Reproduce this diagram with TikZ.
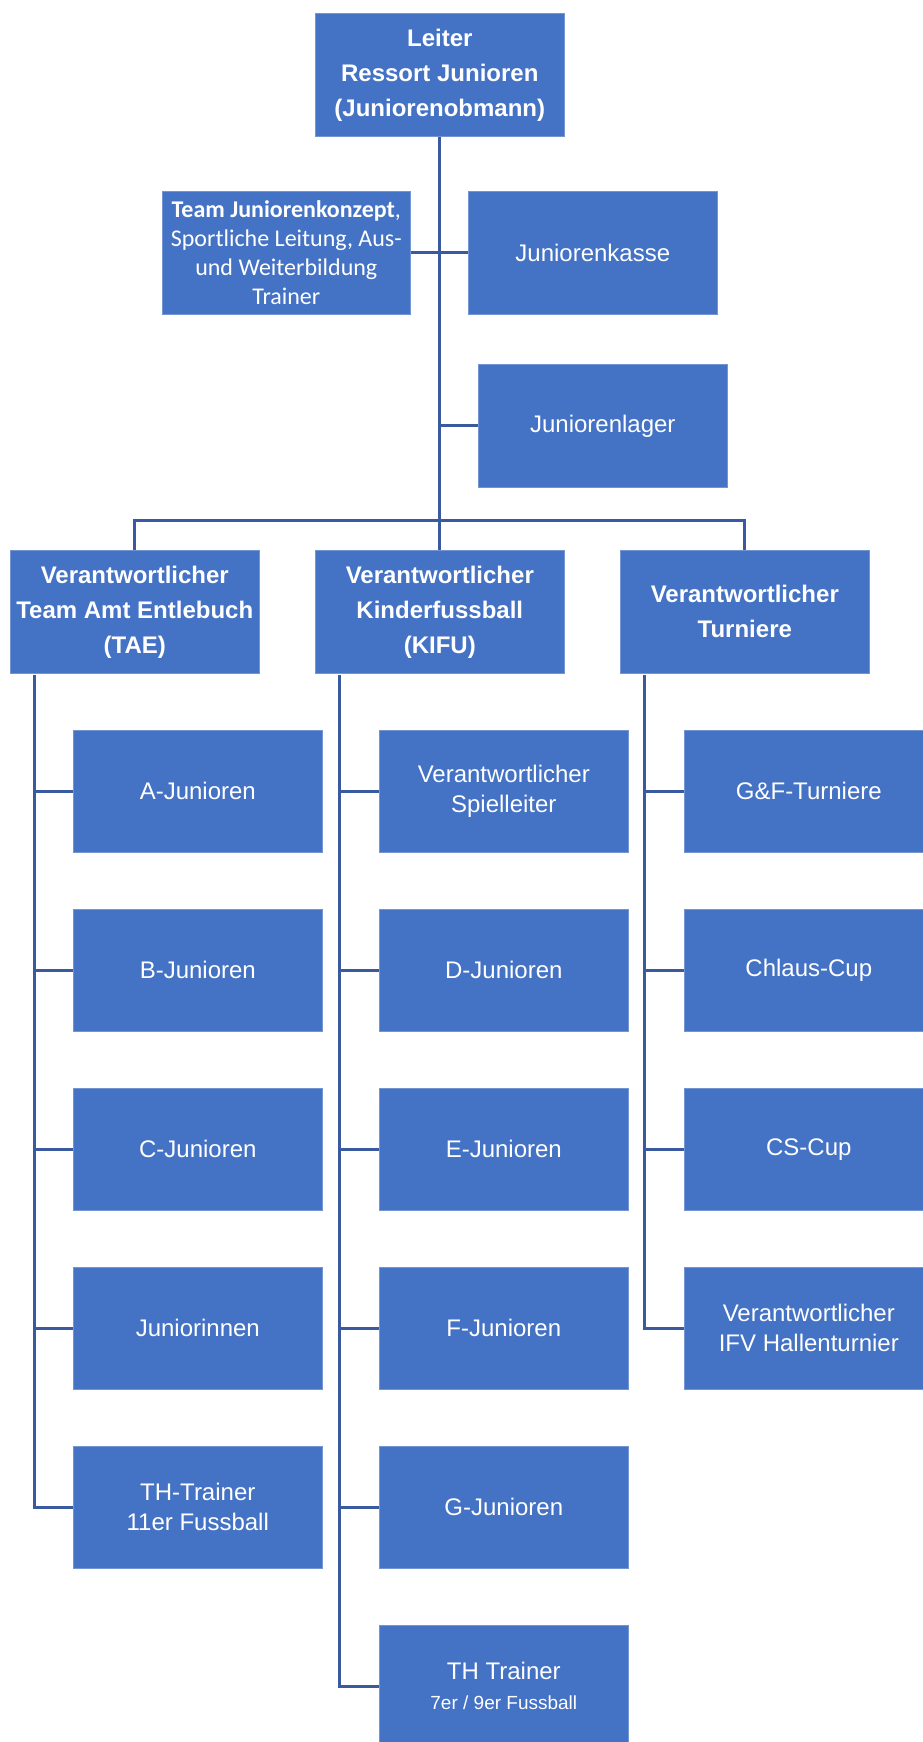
\documentclass[tikz,border=0pt]{standalone}
\usepackage{fontspec}
\setmainfont{Liberation Sans}
\newfontfamily\calib{Carlito}
\definecolor{boxblue}{RGB}{68,114,196}
\definecolor{lineblue}{RGB}{58,90,160}
\tikzset{
 box/.style={fill=boxblue, draw=boxblue!75!white, line width=0.6pt, text=white,
   minimum width=249pt, minimum height=122pt, inner sep=0pt, align=center,
   anchor=north west, font=\fontsize{24}{30}\selectfont},
 headbox/.style={box, minimum height=123pt, font=\fontsize{24}{35}\selectfont\bfseries},
 conn/.style={draw=lineblue, line width=3pt}
}
\begin{document}
\begin{tikzpicture}[x=1pt,y=1pt]
\useasboundingbox (0,0) rectangle (922,-1742);
% top level
\node[headbox] (top) at (315,-13) {Leiter\\Ressort Junioren\\(Juniorenobmann)};
\node[box, minimum width=248pt, minimum height=123pt, font=\calib\fontsize{24}{29}\selectfont] (konz) at (162,-191)
  {\textbf{Team Juniorenkonzept},\\Sportliche Leitung, Aus-\\und Weiterbildung\\Trainer};
\node[box, minimum height=123pt] (kasse) at (468,-191) {Juniorenkasse};
\node[box, minimum height=123pt] (lager) at (478,-364) {Juniorenlager};
% level 2
\node[headbox] (tae) at (10,-550) {Verantwortlicher\\Team Amt Entlebuch\\(TAE)};
\node[headbox] (kifu) at (315,-550) {Verantwortlicher\\Kinderfussball\\(KIFU)};
\node[headbox] (tur) at (620,-550) {Verantwortlicher\\Turniere};
% column 1
\node[box] (a1) at (73,-730) {A-Junioren};
\node[box] (a2) at (73,-909) {B-Junioren};
\node[box] (a3) at (73,-1088) {C-Junioren};
\node[box] (a4) at (73,-1267) {Juniorinnen};
\node[box] (a5) at (73,-1446) {TH-Trainer\\11er Fussball};
% column 2
\node[box] (b1) at (379,-730) {Verantwortlicher\\Spielleiter};
\node[box] (b2) at (379,-909) {D-Junioren};
\node[box] (b3) at (379,-1088) {E-Junioren};
\node[box] (b4) at (379,-1267) {F-Junioren};
\node[box] (b5) at (379,-1446) {G-Junioren};
\node[box] (b6) at (379,-1625) {TH Trainer\\{\fontsize{19}{24}\selectfont 7er / 9er Fussball}};
% column 3
\node[box] (c1) at (684,-730) {G\&F-Turniere};
\node[box] (c2) at (684,-909) {Chlaus-Cup};
\node[box] (c3) at (684,-1088) {CS-Cup};
\node[box] (c4) at (684,-1267) {Verantwortlicher\\IFV Hallenturnier};
% connectors top
\coordinate (bus) at (439.5,-520);
\draw[conn] (top.south) -- (kifu.north);
\draw[conn] (konz.east) -- (kasse.west);
\draw[conn] (lager.west) -- (lager.west -| top.south);
\draw[conn] (tae.north) |- (bus) -| (tur.north);
% column lines
\coordinate (ta) at (34.5,-675);
\coordinate (tb) at (339.5,-675);
\coordinate (tc) at (644.5,-675);
\draw[conn] (ta) |- (a5.west);
\draw[conn] (tb) |- (b6.west);
\draw[conn] (tc) |- (c4.west);
\foreach \n in {a1,a2,a3,a4}{\draw[conn] (\n.west -| ta) -- (\n.west);}
\foreach \n in {b1,b2,b3,b4,b5}{\draw[conn] (\n.west -| tb) -- (\n.west);}
\foreach \n in {c1,c2,c3}{\draw[conn] (\n.west -| tc) -- (\n.west);}
\end{tikzpicture}
\end{document}
